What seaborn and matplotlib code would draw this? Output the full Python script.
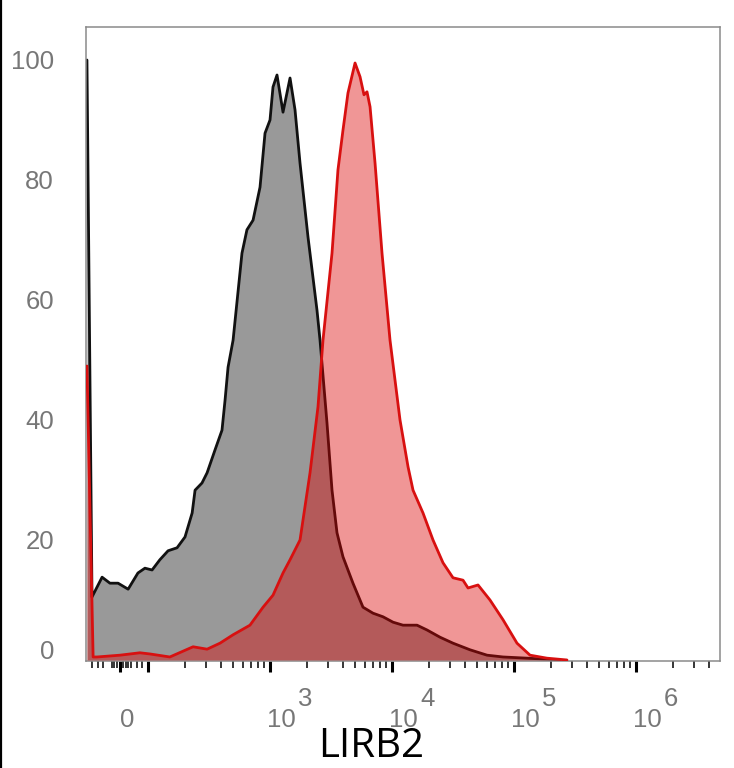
import numpy as np
import pandas as pd
import seaborn as sns
import matplotlib
matplotlib.use("Agg")
import matplotlib.pyplot as plt
import matplotlib.transforms as mtrans
from matplotlib.lines import Line2D

## data: fluorescence intensity (LIRB2) vs normalised count (% of max)
ctrl_x = [-110, -100, -64, -36, -7, 29, 64, 89, 108, 125, 146, 173, 201, 230, 243, 277,
          305, 354, 404, 428, 453, 498, 589, 647, 726, 828, 910, 1000, 1058, 1141, 1278,
          1459, 1603, 1762, 2048, 2427, 2570, 2931, 3222, 3540, 3963, 4786, 5781, 6982,
          8433, 10190, 12300, 16030, 19360, 24720, 31620, 43550, 60090, 81280, 127900,
          238300]
ctrl_y = [100, 10.5, 13.8, 12.8, 12.8, 11.8, 14.5, 15.3, 15.0, 16.7, 18.2, 18.7, 20.5,
          24.5, 28.3, 29.5, 31.2, 35.0, 38.3, 43.3, 48.8, 53.3, 67.8, 71.7, 73.3, 78.8,
          87.8, 90.0, 95.5, 97.5, 91.3, 97.0, 91.7, 82.8, 70.5, 58.3, 53.3, 39.5, 28.3,
          21.2, 17.2, 12.8, 8.8, 7.8, 7.2, 6.3, 5.8, 5.8, 5.0, 3.8, 2.8, 1.7, 0.8, 0.5,
          0.3, 0.0]

lirb2_x = [-110, -96, -82, 0, 71, 104, 151, 234, 305, 389, 498, 685, 877, 1058, 1278,
           1459, 1762, 2128, 2473, 2718, 3222, 3606, 3963, 4355, 4977, 5470, 5893, 6237,
           6607, 7260, 8280, 9630, 11630, 13530, 14870, 17950, 21680, 26180, 31620, 38190,
           41980, 50700, 63530, 81280, 105800, 135300, 186200, 271700]
lirb2_y = [49, 0.5, 0.5, 0.8, 1.2, 1.0, 0.5, 2.2, 1.8, 2.8, 4.2, 5.8, 8.8, 10.8, 14.5,
           16.7, 20.0, 31.2, 42.2, 53.3, 67.8, 81.7, 88.3, 94.5, 99.5, 97.2, 94.2, 94.7,
           92.2, 82.8, 67.8, 53.3, 40.0, 32.2, 28.3, 24.5, 20.0, 16.2, 13.7, 13.3, 12.0,
           12.5, 10.0, 6.7, 2.8, 0.8, 0.3, 0.0]

y_ticks = [0, 20, 40, 60, 80, 100]
x_major = [0, 100, 1e3, 1e4, 1e5, 1e6]
x_labels = {0: "0", 1e3: "3", 1e4: "4", 1e5: "5", 1e6: "6"}
x_near_zero = [-100, -80, -60, -30, -20, -10, 10, 20, 30, 40, 60, 80]

ctrl = pd.DataFrame({"x": ctrl_x, "count": ctrl_y})
stain = pd.DataFrame({"x": lirb2_x, "count": lirb2_y})

sns.set_theme(style="white")
plt.rcParams["font.family"] = ["Liberation Sans", "DejaVu Sans"]

fig = plt.figure(figsize=(7.34, 7.68), dpi=100)
ax = fig.add_axes([86 / 734, 1 - 661 / 768, 634 / 734, 634 / 768])

# control (grey) first, stained (red, translucent) on top
ax.fill_between(ctrl["x"], ctrl["count"], 0, color="#999999", lw=0, zorder=1)
sns.lineplot(data=ctrl, x="x", y="count", ax=ax, color="#111111", lw=2.0, zorder=2)
ax.fill_between(stain["x"], stain["count"], 0, color="#dc0000", alpha=0.41, lw=0, zorder=3)
sns.lineplot(data=stain, x="x", y="count", ax=ax, color="#d81010", lw=2.0, zorder=4)

ax.set_xscale("symlog", linthresh=100, linscale=0.2066)
ax.set_xlim(-112, 4.88e6)
ax.set_ylim(-0.17, 105.5)

# x ticks
minor = list(x_near_zero)
for dec in [100, 1e3, 1e4, 1e5, 1e6]:
    for k in range(2, 10):
        if k * dec < 4.8e6:
            minor.append(k * dec)
ax.set_xticks(x_major)
ax.set_xticks(minor, minor=True)
ax.set_xticklabels([])
ax.tick_params(axis="x", which="major", direction="out", length=8, width=2.2,
               color="black", bottom=True)
ax.tick_params(axis="x", which="minor", direction="out", length=5, width=1.1,
               color="black", bottom=True)
for xv, lab in x_labels.items():
    tr = ("data", "axes fraction")
    if xv == 0:
        ax.annotate("0", xy=(xv, 0), xycoords=tr, xytext=(7, -47),
                    textcoords="offset pixels", ha="center", va="top",
                    fontsize=18.5, color="#777777")
    else:
        ax.annotate("10", xy=(xv, 0), xycoords=tr, xytext=(-3, -47),
                    textcoords="offset pixels", ha="left", va="top",
                    fontsize=18.5, color="#777777")
        ax.annotate(lab, xy=(xv, 0), xycoords=tr, xytext=(28, -26),
                    textcoords="offset pixels", ha="left", va="top",
                    fontsize=18.5, color="#777777")

# y ticks
ax.set_yticks(y_ticks)
ax.set_yticklabels([str(v) for v in y_ticks], fontsize=18.5, color="#777777")
ax.tick_params(axis="y", length=0, pad=23)
zero_lab = ax.get_yticklabels()[0]
zero_lab.set_transform(zero_lab.get_transform() +
                       mtrans.ScaledTranslation(0, 10 / 100, fig.dpi_scale_trans))

for s in ax.spines.values():
    s.set_color("#8a8a8a")
    s.set_linewidth(1.1)
ax.set_xlabel("")
ax.set_ylabel("")

fig.text(371 / 734, 1 - 757 / 768, "LIRB2", ha="center", va="baseline",
         fontsize=29, color="black", family=["Open Sans", "DejaVu Sans"])
fig.add_artist(Line2D([0.0015, 0.0015], [0, 1], transform=fig.transFigure,
                      color="black", lw=1.6))

fig.savefig("out.png", dpi=100)
